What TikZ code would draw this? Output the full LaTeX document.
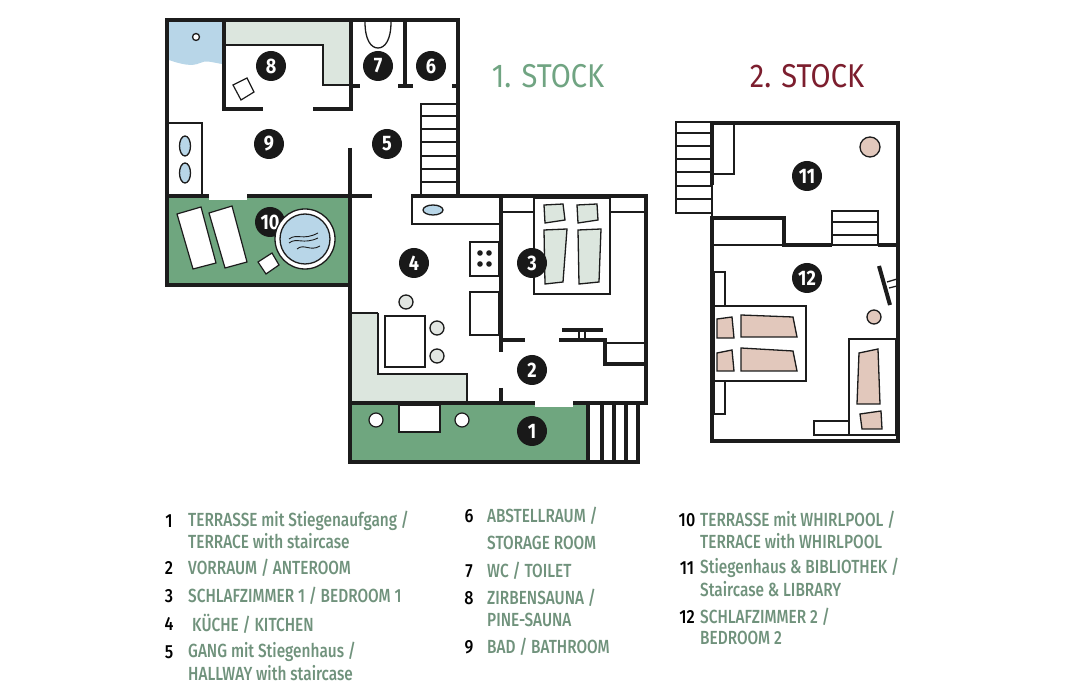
\documentclass[tikz,border=0pt]{standalone}
\usepackage{fontspec}
\setmainfont{Fira Sans}
\newfontfamily\legendfont[FakeStretch=0.81]{Fira Sans Medium}
\newfontfamily\numfont[FakeStretch=0.85]{Fira Sans Medium}
\newfontfamily\badgefont[FakeStretch=0.86]{Fira Sans}
\newfontfamily\titlefont[FakeStretch=0.88]{Fira Sans}
\usetikzlibrary{positioning}
\definecolor{walldark}{RGB}{28,28,28}
\definecolor{terracegreen}{RGB}{111,166,127}
\definecolor{palegreen}{RGB}{220,230,222}
\definecolor{waterblue}{RGB}{184,214,232}
\definecolor{rosewood}{RGB}{226,200,188}
\definecolor{stoolgrey}{RGB}{226,230,226}
\definecolor{legendgreen}{RGB}{112,146,124}
\definecolor{titlegreen}{RGB}{112,164,130}
\definecolor{titlered}{RGB}{124,30,46}
\tikzset{
  wall/.style={draw=walldark, line width=4pt},
  thinwall/.style={draw=walldark, line width=1.3pt},
  furniture/.style={draw=walldark, line width=1.2pt, fill=white},
  badge/.style={circle, fill=black!90, text=white, minimum size=30pt, inner sep=0pt,
    font=\fontsize{21}{21}\badgefont\bfseries},
  legendnum/.style={anchor=center, text=black, inner sep=0pt, font=\fontsize{19}{19}\numfont},
  legendtxt/.style={anchor=west, text=legendgreen, inner sep=0pt, font=\fontsize{19}{19}\legendfont},
  floortitle/.style={anchor=center, inner sep=0pt, font=\fontsize{33}{33}\titlefont}
}
\begin{document}
\begin{tikzpicture}[x=1pt, y=-1pt]
  \useasboundingbox (0,0) rectangle (1080,700);

  % Flaechen
  \fill[terracegreen] (167,198) rectangle (350,284);
  \fill[terracegreen] (350,404) rectangle (588,461);
  \fill[palegreen] (226,22) -- (350,22) -- (350,85) -- (323,85) -- (323,45) -- (226,45) -- cycle;
  \fill[palegreen] (352,313) -- (378,313) -- (378,374) -- (467,374) -- (467,402) -- (352,402) -- cycle;
  \fill[waterblue] (169,22) -- (222,22) -- (222,64) .. controls (210,62) and (206,60) .. (200,63)
    .. controls (192,67) and (180,64) .. (169,60) -- cycle;

  % Waende 1. Stock
  \draw[wall] (167,196) -- (167,20) -- (458,20) -- (458,196);
  \draw[wall] (167,196) -- (209,196);
  \draw[wall] (247,196) -- (372,196);
  \draw[wall] (411,196) -- (648,196);
  \draw[wall] (167,196) -- (167,285) -- (350,285);
  \draw[wall] (350,148) -- (350,462) -- (640,462);
  \draw[wall] (646,196) -- (646,403);
  \draw[wall] (350,403) -- (535,403);
  \draw[wall] (573,403) -- (648,403);
  \draw[wall] (224,20) -- (224,109) -- (263,109);
  \draw[wall] (313,109) -- (351,109) -- (351,20);
  \draw[wall] (351,86) -- (360,86);
  \draw[wall] (398,86) -- (413,86);
  \draw[wall] (405,20) -- (405,86);
  \draw[wall] (452,86) -- (458,86);
  \draw[wall] (501,196) -- (501,352);
  \draw[wall] (501,388) -- (501,403);
  \draw[wall] (501,340) -- (525,340);
  \draw[wall] (559,340) -- (605,340) -- (605,364) -- (644,364);
  \draw[wall] (562,330) -- (603,330);

  % Tuerschwellen
  \fill[white] (209,194) rectangle (247,200);
  \fill[white] (535,401) rectangle (573,407);

  % Duenne Linien 1. Stock
  \draw[thinwall] (224,45) -- (323,45) -- (323,85) -- (351,85);
  \draw[thinwall] (501,212) -- (534,212);
  \draw[thinwall] (610,212) -- (644,212);
  \draw[thinwall] (605,343) -- (644,343);
  \draw[thinwall] (378,313) -- (352,313);
  \draw[thinwall] (378,313) -- (378,374) -- (467,374) -- (467,402);
  \draw[thinwall] (579,330) -- (579,340);
  \draw[thinwall] (585,330) -- (585,340);
  \draw[thinwall] (365,22) .. controls (365,40) and (371,48) .. (378,48)
    .. controls (385,48) and (391,40) .. (391,22);

  % Stiege 1. Stock
  \draw[thinwall] (421,196) -- (421,104) -- (456,104);
  \foreach \y in {116, 129, 142, 156, 169, 182} {
    \draw[thinwall] (421,\y) -- (456,\y);
  }
  % Stiege Terrasse
  \fill[white] (588,405) rectangle (640,460);
  \foreach \x in {588, 602, 614, 626, 638} {
    \draw[wall] (\x,403) -- (\x,462);
  }

  % Sauna und Bad
  \draw[thinwall] (168,123) -- (202,123) -- (202,194);
  \foreach \y in {146, 173} {
    \draw[thinwall, fill=waterblue] (185,\y) ellipse [x radius=5.5pt, y radius=10pt];
  }
  \draw[thinwall, fill=white] (196,37) circle [radius=3.5pt];
  \draw[furniture] (233,85) -- (247,78) -- (254,92) -- (241,100) -- cycle;

  % Terrasse mit Whirlpool
  \draw[furniture] (177,214) -- (201,207) -- (216,263) -- (193,269) -- cycle;
  \draw[furniture] (209,213) -- (232,206) -- (247,262) -- (225,268) -- cycle;
  \draw[furniture] (258,262) -- (272,253) -- (279,265) -- (266,274) -- cycle;
  \node[badge] (room10) at (270,222) {10};
  \draw[thinwall, fill=white] (305,239) circle [radius=30pt];
  \draw[thinwall, fill=waterblue] (305,239) circle [radius=25pt];
  \draw[walldark, line width=0.9pt] (289,239) .. controls (297,233) and (303,241) .. (318,233);
  \draw[walldark, line width=0.9pt] (289,243) .. controls (297,237) and (303,245) .. (318,238);
  \draw[walldark, line width=0.9pt] (297,249) .. controls (304,243) and (310,252) .. (320,246);

  % Kueche
  \draw[thinwall] (412,198) -- (412,224) -- (501,224);
  \draw[thinwall, fill=waterblue] (433,210) ellipse [x radius=10pt, y radius=5pt];
  \draw[furniture] (470,242) rectangle (499,276);
  \foreach \x/\y in {480/253, 489/253, 480/264, 489/264} {
    \fill[walldark] (\x,\y) circle [radius=2.8pt];
  }
  \draw[furniture] (470,292) rectangle (499,335);
  \draw[furniture] (385,316) rectangle (425,367);
  \foreach \x/\y in {406/302, 437/328, 437/356} {
    \draw[thinwall, fill=stoolgrey] (\x,\y) circle [radius=7pt];
  }

  % Terrassentisch
  \draw[furniture] (399,405) rectangle (440,432);
  \foreach \x in {376, 462} {
    \draw[furniture] (\x,420) circle [radius=7pt];
  }

  % Bett 1. Stock
  \draw[furniture] (534,198) rectangle (610,294);
  \draw[thinwall, fill=palegreen] (544,205) -- (563,204) -- (565,220) -- (545,223) -- cycle;
  \draw[thinwall, fill=palegreen] (577,205) -- (597,204) -- (598,220) -- (578,223) -- cycle;
  \draw[thinwall, fill=palegreen] (544,230) -- (567,229) -- (563,282) -- (545,284) -- cycle;
  \draw[thinwall, fill=palegreen] (578,230) -- (601,229) -- (599,282) -- (579,284) -- cycle;

  % 2. Stock
  \draw[thinwall] (676,122) rectangle (712,213);
  \foreach \y in {133, 146, 159, 172, 186, 199} {
    \draw[thinwall] (676,\y) -- (712,\y);
  }
  \draw[thinwall] (712,174) -- (734,174) -- (734,123);
  \draw[thinwall] (712,245) -- (784,245);
  \draw[furniture] (832,211) rectangle (878,245);
  \draw[thinwall] (832,222) -- (878,222);
  \draw[thinwall] (832,235) -- (878,235);
  \draw[wall] (712,185) -- (712,123) -- (898,123) -- (898,441) -- (712,441) -- (712,217);
  \draw[wall] (710,218) -- (784,218) -- (784,245) -- (832,245);
  \draw[wall] (878,245) -- (898,245);
  \draw[thinwall] (712,185) -- (712,217);

  % Moebel 2. Stock
  \draw[thinwall, fill=rosewood] (870,147) circle [radius=10pt];
  \draw[thinwall, fill=rosewood] (874,317) circle [radius=7pt];
  \draw[walldark, line width=4pt] (879,266) -- (890,305);
  \draw[thinwall] (887,282) -- (897,279);
  \draw[thinwall] (889,288) -- (897,286);
  \draw[furniture] (714,272) rectangle (725,306);
  \draw[furniture] (714,381) rectangle (725,414);
  \draw[furniture] (714,306) rectangle (806,381);
  \draw[thinwall, fill=rosewood] (717,319) -- (732,317) -- (734,338) -- (717,338) -- cycle;
  \draw[thinwall, fill=rosewood] (717,353) -- (732,350) -- (734,371) -- (717,371) -- cycle;
  \draw[thinwall, fill=rosewood] (741,315) -- (793,317) -- (797,337) -- (741,337) -- cycle;
  \draw[thinwall, fill=rosewood] (741,348) -- (793,351) -- (797,371) -- (741,371) -- cycle;
  \draw[furniture] (849,339) rectangle (896,435);
  \draw[thinwall, fill=rosewood] (859,353) -- (878,349) -- (880,404) -- (857,404) -- cycle;
  \draw[thinwall, fill=rosewood] (860,414) -- (881,411) -- (882,429) -- (862,429) -- cycle;
  \draw[furniture] (814,421) rectangle (849,435);

  % Nummern
  \foreach \nr/\x/\y in {1/532/431, 2/532/370, 3/532/263, 4/414/263, 5/387/144, 6/431/66,
      7/378/66, 8/271/66, 9/269/144, 11/807/176, 12/807/278} {
    \node[badge] (room\nr) at (\x,\y) {\nr};
  }

  % Titel
  \node[floortitle, text=titlegreen] (title1) at (548,76) {1. STOCK};
  \node[floortitle, text=titlered] (title2) at (807,76) {2. STOCK};

  % Legende
  \foreach \nr/\x/\y in {1/169/521, 2/169/568, 3/169/596, 4/169/624, 5/169/652,
      6/469/516, 7/469/571, 8/469/598, 9/469/647,
      10/687/520, 11/687/568, 12/687/617} {
    \node[legendnum] (num\nr) at (\x,\y) {\nr};
  }
  \node[legendtxt] (txt1a) at (188,521) {TERRASSE mit Stiegenaufgang /};
  \node[legendtxt] (txt1b) at (188,541) {TERRACE with staircase};
  \node[legendtxt] (txt2) at (188,568) {VORRAUM / ANTEROOM};
  \node[legendtxt] (txt3) at (188,596) {SCHLAFZIMMER 1 / BEDROOM 1};
  \node[legendtxt] (txt4) at (192,624) {KÜCHE / KITCHEN};
  \node[legendtxt] (txt5a) at (188,652) {GANG mit Stiegenhaus /};
  \node[legendtxt] (txt5b) at (188,673) {HALLWAY with staircase};
  \node[legendtxt] (txt6a) at (487,516) {ABSTELLRAUM /};
  \node[legendtxt] (txt6b) at (487,543) {STORAGE ROOM};
  \node[legendtxt] (txt7) at (487,571) {WC / TOILET};
  \node[legendtxt] (txt8a) at (487,598) {ZIRBENSAUNA /};
  \node[legendtxt] (txt8b) at (487,620) {PINE-SAUNA};
  \node[legendtxt] (txt9) at (487,647) {BAD / BATHROOM};
  \node[legendtxt] (txt10a) at (700,520) {TERRASSE mit WHIRLPOOL /};
  \node[legendtxt] (txt10b) at (700,541) {TERRACE with WHIRLPOOL};
  \node[legendtxt] (txt11a) at (700,568) {Stiegenhaus \& BIBLIOTHEK /};
  \node[legendtxt] (txt11b) at (700,589) {Staircase \& LIBRARY};
  \node[legendtxt] (txt12a) at (700,617) {SCHLAFZIMMER 2 /};
  \node[legendtxt] (txt12b) at (700,638) {BEDROOM 2};
\end{tikzpicture}
\end{document}
